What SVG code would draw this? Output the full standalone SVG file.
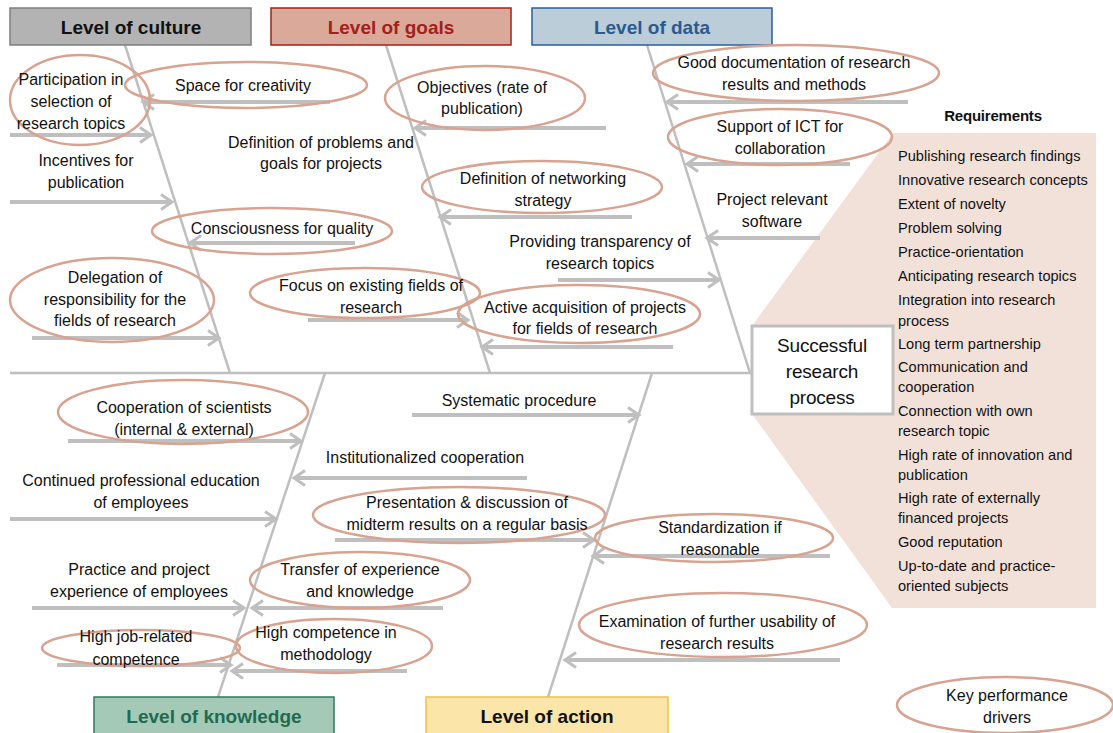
<svg xmlns="http://www.w3.org/2000/svg" width="1113" height="733" viewBox="0 0 1113 733">
<defs>
<marker id="ah" markerUnits="userSpaceOnUse" markerWidth="16" markerHeight="20" viewBox="0 0 16 20" refX="13" refY="10" orient="auto">
<path d="M2,2.5 L13,10 L2,17.5" fill="none" stroke="#bfbfbf" stroke-width="3"/>
</marker>
</defs>
<style>
text{font-family:"Liberation Sans",Arial,sans-serif;fill:#111;}
.t{font-size:16px;text-anchor:middle;letter-spacing:0px;}
.r{font-size:14.6px;letter-spacing:0px;}
.h{font-size:19px;font-weight:bold;text-anchor:middle;}
.e{fill:none;stroke:#d8a390;stroke-width:2.5;}
.bone{stroke:#bfbfbf;stroke-width:2.5;fill:none;}
.ar{stroke:#bfbfbf;stroke-width:4;fill:none;marker-end:url(#ah);}
</style>
<rect width="1113" height="733" fill="#ffffff"/>

<g id="requirements-panel">
<polygon points="752,326 893,133 1096,133 1096,608 892,608 752,414" fill="#f2e1d9"/>
<text x="993" y="121" style="font-size:15px;font-weight:bold;text-anchor:middle;letter-spacing:-0.2px">Requirements</text>
<text class="r" x="898" y="161">Publishing research findings</text>
<text class="r" x="898" y="185">Innovative research concepts</text>
<text class="r" x="898" y="209">Extent of novelty</text>
<text class="r" x="898" y="233">Problem solving</text>
<text class="r" x="898" y="257">Practice-orientation</text>
<text class="r" x="898" y="281">Anticipating research topics</text>
<text class="r" x="898" y="305">Integration into research</text>
<text class="r" x="898" y="326">process</text>
<text class="r" x="898" y="349">Long term partnership</text>
<text class="r" x="898" y="372">Communication and</text>
<text class="r" x="898" y="392">cooperation</text>
<text class="r" x="898" y="416">Connection with own</text>
<text class="r" x="898" y="436">research topic</text>
<text class="r" x="898" y="460">High rate of innovation and</text>
<text class="r" x="898" y="480">publication</text>
<text class="r" x="898" y="503">High rate of externally</text>
<text class="r" x="898" y="523">financed projects</text>
<text class="r" x="898" y="547">Good reputation</text>
<text class="r" x="898" y="571">Up-to-date and practice-</text>
<text class="r" x="898" y="591">oriented subjects</text>
</g>

<g id="connectors">
<line class="bone" x1="10" y1="373" x2="752" y2="373" stroke-width="3"/>
<line class="bone" x1="125" y1="45" x2="230" y2="373"/>
<line class="bone" x1="386" y1="45" x2="490" y2="373"/>
<line class="bone" x1="647" y1="45" x2="750" y2="373"/>
<line class="bone" x1="325" y1="373" x2="218" y2="697"/>
<line class="bone" x1="652" y1="373" x2="548" y2="697"/>
<line class="ar" x1="10" y1="135" x2="151" y2="135"/>
<line class="ar" x1="330" y1="102" x2="143" y2="102"/>
<line class="ar" x1="10" y1="202" x2="172" y2="202"/>
<line class="ar" x1="355" y1="243" x2="190" y2="243"/>
<line class="ar" x1="32" y1="338" x2="219" y2="338"/>
<line class="ar" x1="606" y1="128" x2="415" y2="128"/>
<line class="ar" x1="632" y1="217" x2="440" y2="217"/>
<line class="ar" x1="558" y1="280" x2="719" y2="280"/>
<line class="ar" x1="308" y1="320" x2="468" y2="320"/>
<line class="ar" x1="673" y1="347" x2="482" y2="347"/>
<line class="ar" x1="908" y1="102" x2="667" y2="102"/>
<line class="ar" x1="850" y1="164" x2="687" y2="164"/>
<line class="ar" x1="820" y1="238" x2="707" y2="238"/>
<line class="ar" x1="68" y1="441" x2="301" y2="441"/>
<line class="ar" x1="527" y1="478" x2="294" y2="478"/>
<line class="ar" x1="10" y1="519" x2="276" y2="519"/>
<line class="ar" x1="32" y1="608" x2="244" y2="608"/>
<line class="ar" x1="443" y1="608" x2="252" y2="608"/>
<line class="ar" x1="57" y1="665" x2="231" y2="665"/>
<line class="ar" x1="407" y1="671" x2="232" y2="671"/>
<line class="ar" x1="412" y1="415" x2="639" y2="415"/>
<line class="ar" x1="335" y1="540" x2="594" y2="540"/>
<line class="ar" x1="830" y1="556" x2="593" y2="556"/>
<line class="ar" x1="840" y1="660" x2="565" y2="660"/>
</g>

<g id="header-culture">
<rect x="10" y="8" width="241" height="37" fill="#b3b3b3" stroke="#7f7f7f" stroke-width="1.5"/>
<text class="h" x="131" y="34">Level of culture</text>
</g>
<g id="header-goals">
<rect x="271" y="8" width="240" height="37" fill="#dba999" stroke="#a3201e" stroke-width="1.5"/>
<text class="h" x="391" y="34" style="fill:#a3201e">Level of goals</text>
</g>
<g id="header-data">
<rect x="532" y="8" width="240" height="37" fill="#bacdd9" stroke="#2d5d98" stroke-width="1.5"/>
<text class="h" x="652" y="34" style="fill:#2d5a8c">Level of data</text>
</g>
<g id="header-knowledge">
<rect x="94" y="697" width="240" height="40" fill="#a5c9b7" stroke="#2e7a5f" stroke-width="1.5"/>
<text class="h" x="214" y="723" style="fill:#1f6b51">Level of knowledge</text>
</g>
<g id="header-action">
<rect x="426" y="697" width="242" height="40" fill="#fbe5a8" stroke="#f0c244" stroke-width="1.5"/>
<text class="h" x="547" y="723">Level of action</text>
</g>

<g id="successful-research-process">
<rect x="752" y="326" width="141" height="88" fill="#ffffff" stroke="#bfbfbf" stroke-width="3"/>
<text x="822" y="352" style="font-size:19px;text-anchor:middle;letter-spacing:-0.2px">Successful</text>
<text x="822" y="378" style="font-size:19px;text-anchor:middle;letter-spacing:-0.2px">research</text>
<text x="822" y="404" style="font-size:19px;text-anchor:middle;letter-spacing:-0.2px">process</text>
</g>

<g id="n-participation">
<ellipse class="e" cx="80" cy="100" rx="70" ry="45"/>
<text class="t" x="71" y="85">Participation in</text>
<text class="t" x="71" y="107">selection of</text>
<text class="t" x="71" y="129">research topics</text>
</g>
<g id="n-space">
<ellipse class="e" cx="246" cy="85" rx="121" ry="23"/>
<text class="t" x="243" y="91">Space for creativity</text>
</g>
<g id="n-incentives">
<text class="t" x="86" y="166">Incentives for</text>
<text class="t" x="86" y="188">publication</text>
</g>
<g id="n-definition-problems">
<text class="t" x="321" y="148">Definition of problems and</text>
<text class="t" x="321" y="169">goals for projects</text>
</g>
<g id="n-consciousness">
<ellipse class="e" cx="272" cy="231" rx="120" ry="23"/>
<text class="t" x="282" y="234">Consciousness for quality</text>
</g>
<g id="n-delegation">
<ellipse class="e" cx="112" cy="300" rx="102" ry="42"/>
<text class="t" x="115" y="283">Delegation of</text>
<text class="t" x="115" y="305">responsibility for the</text>
<text class="t" x="115" y="326">fields of research</text>
</g>

<g id="n-objectives">
<ellipse class="e" cx="485" cy="98" rx="100" ry="32"/>
<text class="t" x="482" y="93">Objectives (rate of</text>
<text class="t" x="482" y="114">publication)</text>
</g>
<g id="n-networking">
<ellipse class="e" cx="542" cy="187" rx="120" ry="26"/>
<text class="t" x="543" y="184">Definition of networking</text>
<text class="t" x="543" y="206">strategy</text>
</g>
<g id="n-transparency">
<text class="t" x="600" y="247">Providing transparency of</text>
<text class="t" x="600" y="269">research topics</text>
</g>
<g id="n-focus">
<ellipse class="e" cx="365" cy="293" rx="115" ry="25"/>
<text class="t" x="371" y="291">Focus on existing fields of</text>
<text class="t" x="371" y="313">research</text>
</g>
<g id="n-active">
<ellipse class="e" cx="579" cy="314" rx="121" ry="29"/>
<text class="t" x="585" y="313">Active acquisition of projects</text>
<text class="t" x="585" y="334">for fields of research</text>
</g>

<g id="n-documentation">
<ellipse class="e" cx="796" cy="73" rx="143" ry="28"/>
<text class="t" x="794" y="68">Good documentation of research</text>
<text class="t" x="794" y="90">results and methods</text>
</g>
<g id="n-ict">
<ellipse class="e" cx="780" cy="137" rx="112" ry="28"/>
<text class="t" x="780" y="132">Support of ICT for</text>
<text class="t" x="780" y="154">collaboration</text>
</g>
<g id="n-software">
<text class="t" x="772" y="205">Project relevant</text>
<text class="t" x="772" y="227">software</text>
</g>

<g id="n-cooperation-scientists">
<ellipse class="e" cx="183" cy="412" rx="125" ry="32"/>
<text class="t" x="184" y="413">Cooperation of scientists</text>
<text class="t" x="184" y="435">(internal &amp; external)</text>
</g>
<g id="n-institutionalized">
<text class="t" x="425" y="463">Institutionalized cooperation</text>
</g>
<g id="n-continued">
<text class="t" x="141" y="486">Continued professional education</text>
<text class="t" x="141" y="508">of employees</text>
</g>
<g id="n-presentation">
<ellipse class="e" cx="459" cy="515" rx="146" ry="28"/>
<text class="t" x="467" y="508">Presentation &amp; discussion of</text>
<text class="t" x="467" y="530">midterm results on a regular basis</text>
</g>
<g id="n-practice">
<text class="t" x="139" y="575">Practice and project</text>
<text class="t" x="139" y="597">experience of employees</text>
</g>
<g id="n-transfer">
<ellipse class="e" cx="360" cy="580" rx="110" ry="28"/>
<text class="t" x="360" y="575">Transfer of experience</text>
<text class="t" x="360" y="597">and knowledge</text>
</g>
<g id="n-job-related">
<ellipse class="e" cx="141" cy="648" rx="99" ry="18"/>
<text class="t" x="136" y="642">High job-related</text>
<text class="t" x="136" y="665">competence</text>
</g>
<g id="n-methodology">
<ellipse class="e" cx="334" cy="646" rx="98" ry="27"/>
<text class="t" x="326" y="638">High competence in</text>
<text class="t" x="326" y="660">methodology</text>
</g>

<g id="n-systematic">
<text class="t" x="519" y="406">Systematic procedure</text>
</g>
<g id="n-standardization">
<ellipse class="e" cx="714" cy="538" rx="119" ry="24"/>
<text class="t" x="720" y="533">Standardization if</text>
<text class="t" x="720" y="555">reasonable</text>
</g>
<g id="n-examination">
<ellipse class="e" cx="723" cy="625" rx="144" ry="32"/>
<text class="t" x="717" y="627">Examination of further usability of</text>
<text class="t" x="717" y="649">research results</text>
</g>

<g id="legend-key-drivers">
<ellipse class="e" cx="1005" cy="705" rx="108" ry="28"/>
<text class="t" x="1007" y="701">Key performance</text>
<text class="t" x="1007" y="723">drivers</text>
</g>
</svg>
